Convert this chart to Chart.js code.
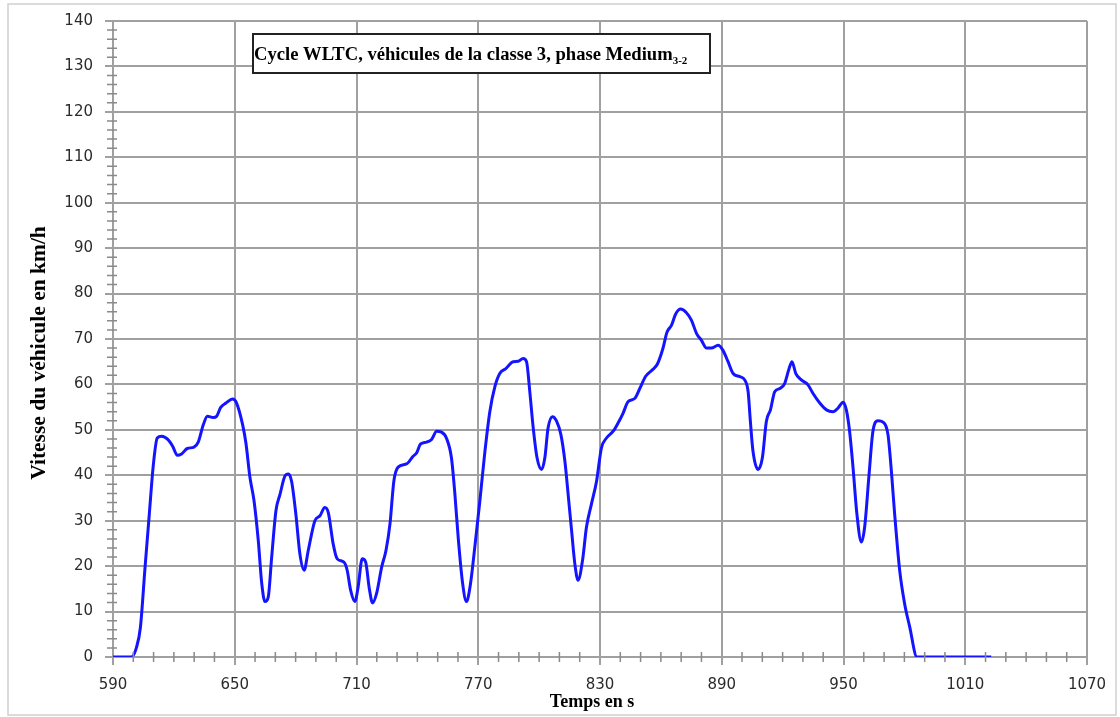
<!DOCTYPE html>
<html>
<head>
<meta charset="utf-8">
<script src="https://cdn.jsdelivr.net/npm/chart.js@4.4.0/dist/chart.umd.min.js"></script>
<style>
  html, body { margin: 0; padding: 0; background: #fff; }
  #wrap { width: 1120px; height: 717px; position: relative; }
</style>
</head>
<body>
<div id="wrap"><canvas id="chart" width="1120" height="717"></canvas></div>
<script>
// WLTC class 3, medium phase (time in s, speed in km/h)
const times = [
  590, 599, 601.5, 603.5, 605.8, 607.9, 609.9, 611.8, 614, 617, 619.4, 621.7, 623.8, 626.6, 629.9,
  632, 634.5, 636.5, 639.4, 641.1, 643, 645.7, 649, 650.9, 653.9, 655.5, 657.5, 659.5, 661.6, 663.3,
  664.9, 666.5, 668.2, 670.3, 672.3, 674.7, 676.4, 678, 680.1, 682.1, 684.2, 686.2, 689.5, 692, 694.4,
  696.1, 698.5, 700.5, 703.8, 705.4, 707.1, 709.2, 710.8, 712.8, 714.5, 716.3, 717.9, 719.9, 722.4, 724.5,
  726.5, 728.4, 730.5, 734.7, 737.9, 739.6, 741.6, 744.5, 747, 749.5, 751.9, 754.4, 756.8, 758.5, 760.1,
  762.3, 764.2, 766.2, 768.3, 770.8, 773.3, 775.7, 778.2, 780.6, 783.6, 787.2, 789.7, 792.1, 793.8, 795.4,
  797.1, 799, 801.2, 802.8, 804.4, 806.6, 808.6, 810.7, 812.7, 814.3, 816, 817.6, 819.2, 821.4, 823.3,
  825.8, 828.3, 830.7, 833.2, 836.5, 838.9, 841.4, 843.8, 847.1, 849.6, 852.5, 855.8, 858.3, 861, 863,
  865.2, 867.3, 869.7, 872.6, 875.1, 877.6, 880, 882.5, 884.9, 888.2, 890.6, 893.1, 895.6, 898.9, 901.3,
  903, 904.1, 905.4, 907.9, 910, 912, 914, 916.1, 918.6, 921, 923.2, 924.6, 926.5, 929.2, 932.5,
  935, 938.3, 941.6, 944.8, 947.3, 949.8, 951.4, 953, 954.7, 956.6, 958.8, 960.4, 962.6, 964.5, 967,
  969.5, 971.9, 973.6, 975.2, 977.7, 980.1, 982.6, 986.2, 1022.8
];
const speeds = [
  0, 0, 2, 6.5, 19.8, 31.5, 42.4, 48.2, 48.6, 47.9, 46.4, 44.4, 44.7, 45.9, 46.2,
  47.3, 51.1, 53, 52.7, 53, 54.9, 55.9, 56.8, 55.9, 51.1, 47.1, 39.5, 34.4, 25.6, 16.2,
  12.2, 13.2, 22, 32.2, 35.8, 39.8, 40.3, 38.7, 31.5, 22.7, 19.1, 23.4, 30, 31.1, 32.9,
  31.8, 24.9, 21.6, 20.9, 19.1, 14.7, 12.2, 15.4, 21.6, 20.9, 15.1, 11.9, 14, 19.8, 23.4,
  29.3, 38.7, 41.8, 42.5, 44.2, 44.9, 46.9, 47.3, 47.9, 49.7, 49.5, 48.1, 43.8, 35.8, 26.4,
  16.2, 12.2, 16.2, 24.2, 34.4, 45.3, 54, 59.5, 62.4, 63.5, 65, 65.1, 65.7, 65, 58.4,
  50.4, 43.8, 41.3, 43.8, 50.4, 52.9, 51.9, 49, 43.1, 35.8, 27.8, 20.5, 16.9, 21.3, 28.5,
  33.7, 38.7, 46, 48.2, 49.7, 51.5, 53.7, 56.2, 56.9, 59.1, 61.8, 63.2, 64.5, 67.9, 71.5,
  73, 75.5, 76.6, 75.8, 74.1, 71.2, 69.7, 68, 68, 68.6, 67.5, 65, 62.4, 61.7, 61,
  58.4, 51.9, 45.3, 41.3, 43.8, 51.9, 54.4, 58.4, 59.1, 60.2, 63.5, 65, 62.4, 61, 59.9,
  58, 55.9, 54.4, 54, 54.8, 56.1, 54.4, 49.7, 41.7, 31.5, 25.3, 28.5, 40.2, 49.7, 52,
  51.7, 49, 40.9, 31.5, 19, 11.8, 6.7, 0, 0
];
const xMajorTicks = [590, 650, 710, 770, 830, 890, 950, 1010, 1070];
const yMajorTicks = [0, 10, 20, 30, 40, 50, 60, 70, 80, 90, 100, 110, 120, 130, 140];

const GRID = '#a0a0a0';
const MINOR = '#8a8a8a';

// frame, title box, axis titles and the small minor tick marks
const decorPlugin = {
  id: 'decor',
  afterDraw(chart) {
    const ctx = chart.ctx;
    const xs = chart.scales.x, ys = chart.scales.y;
    const x0 = xs.left, y0 = ys.bottom;

    ctx.save();
    // minor ticks crossing the axes
    ctx.strokeStyle = MINOR;
    ctx.lineWidth = 1.5;
    ctx.beginPath();
    xs.ticks.forEach(t => {
      if (xMajorTicks.includes(t.value)) return;
      const px = xs.getPixelForValue(t.value);
      ctx.moveTo(px, y0 - 5);
      ctx.lineTo(px, y0 + 5);
    });
    ys.ticks.forEach(t => {
      if (yMajorTicks.includes(t.value)) return;
      const py = ys.getPixelForValue(t.value);
      ctx.moveTo(x0 - 6, py);
      ctx.lineTo(x0 + 4, py);
    });
    ctx.stroke();

    // outer frame
    ctx.strokeStyle = '#cfcfcf';
    ctx.lineWidth = 1.5;
    ctx.strokeRect(8, 4, 1108, 711);

    // title box
    ctx.fillStyle = '#fff';
    ctx.fillRect(253, 34, 457, 39);
    ctx.strokeStyle = '#222';
    ctx.lineWidth = 2;
    ctx.strokeRect(253, 34, 457, 39);

    ctx.fillStyle = '#000';
    ctx.textAlign = 'left';
    ctx.textBaseline = 'alphabetic';
    ctx.font = 'bold 18.6px "Liberation Serif", "Times New Roman", serif';
    const main = 'Cycle WLTC, véhicules de la classe 3, phase Medium';
    ctx.fillText(main, 254, 60);
    const w = ctx.measureText(main).width;
    ctx.font = 'bold 11px "Liberation Serif", "Times New Roman", serif';
    ctx.fillText('3-2', 254 + w, 64);

    // axis titles
    ctx.font = 'bold 18px "Liberation Serif", "Times New Roman", serif';
    ctx.textAlign = 'center';
    ctx.fillText('Temps en s', 592, 707);

    ctx.translate(45, 353);
    ctx.rotate(-Math.PI / 2);
    ctx.font = 'bold 21.5px "Liberation Serif", "Times New Roman", serif';
    ctx.fillText('Vitesse du véhicule en km/h', 0, 0);
    ctx.restore();
  }
};

new Chart(document.getElementById('chart'), {
  type: 'line',
  data: {
    datasets: [{
      label: 'Vitesse',
      data: times.map((t, i) => ({ x: t, y: speeds[i] })),
      borderColor: 'rgb(20, 20, 255)',
      borderWidth: 3,
      pointRadius: 0,
      fill: false,
      cubicInterpolationMode: 'monotone'
    }]
  },
  options: {
    responsive: false,
    animation: false,
    devicePixelRatio: 1,
    layout: { padding: { top: 17, right: 33, left: 0, bottom: 0 } },
    plugins: {
      legend: { display: false },
      title: { display: false },
      tooltip: { enabled: false }
    },
    scales: {
      x: {
        type: 'linear',
        min: 590,
        max: 1070,
        afterFit: scale => { scale.height = 60; },
        border: { display: false },
        grid: {
          lineWidth: 2,
          tickLength: 8,
          color: c => xMajorTicks.includes(c.tick.value) ? GRID : 'rgba(0,0,0,0)',
          tickColor: c => xMajorTicks.includes(c.tick.value) ? GRID : 'rgba(0,0,0,0)'
        },
        ticks: {
          stepSize: 10,
          autoSkip: false,
          maxRotation: 0,
          padding: 11,
          color: '#2b2b2b',
          font: { family: '"DejaVu Sans", Verdana, sans-serif', size: 15 },
          callback: v => xMajorTicks.includes(v) ? String(v) : ''
        }
      },
      y: {
        min: 0,
        max: 140,
        afterFit: scale => { scale.width = 113; },
        border: { display: false },
        grid: {
          lineWidth: 2,
          tickLength: 8,
          color: c => yMajorTicks.includes(c.tick.value) ? GRID : 'rgba(0,0,0,0)',
          tickColor: c => yMajorTicks.includes(c.tick.value) ? GRID : 'rgba(0,0,0,0)'
        },
        ticks: {
          stepSize: 2,
          autoSkip: false,
          padding: 12,
          color: '#2b2b2b',
          font: { family: '"DejaVu Sans", Verdana, sans-serif', size: 15 },
          callback: v => yMajorTicks.includes(v) ? String(v) : ''
        }
      }
    }
  },
  plugins: [decorPlugin]
});
</script>
</body>
</html>
